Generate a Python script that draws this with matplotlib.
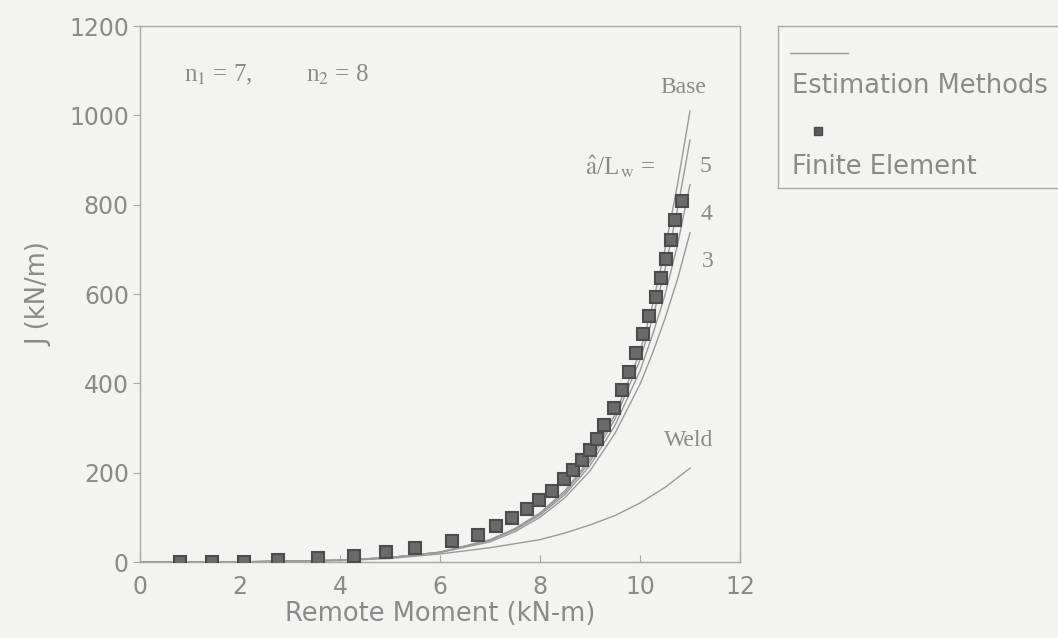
import matplotlib
matplotlib.use("Agg")
import matplotlib.pyplot as plt

# ---- data ----
fe_moment = [0.80, 1.44, 2.08, 2.76, 3.55, 4.28, 4.92, 5.50, 6.23, 6.75, 7.12, 7.44,
             7.74, 7.98, 8.24, 8.48, 8.66, 8.84, 8.99, 9.13, 9.27, 9.47, 9.63, 9.77,
             9.91, 10.06, 10.17, 10.31, 10.41, 10.51, 10.61, 10.69, 10.83]
fe_j = [0, 0, 1, 4, 10, 13, 23, 32, 46, 60, 80, 98,
        118, 139, 159, 185, 205, 228, 251, 276, 307, 344, 384, 426,
        467, 510, 551, 593, 635, 678, 722, 766, 809]

est_moment = [0, 2, 4, 5, 6, 7, 7.5, 8, 8.5, 9, 9.5, 10, 10.25, 10.5, 10.75, 11]
base_j = [0, 0.3, 4, 10, 22, 50, 75, 110, 160, 230, 330, 470, 575, 700, 845, 1010]
r5_j = [0, 0.3, 4, 10, 22, 49, 74, 108, 156, 224, 320, 452, 545, 655, 790, 945]
r4_j = [0, 0.3, 4, 10, 22, 48, 72, 105, 151, 216, 306, 428, 508, 598, 710, 845]
r3_j = [0, 0.3, 4, 10, 21, 45, 68, 100, 144, 204, 288, 398, 467, 545, 633, 737]

weld_moment = [0, 2, 4, 5, 6, 7, 8, 8.5, 9, 9.5, 10, 10.5, 11]
weld_j = [0, 0.3, 3, 8, 18, 32, 50, 65, 83, 104, 132, 167, 210]

x_ticks = [0, 2, 4, 6, 8, 10, 12]
y_ticks = [0, 200, 400, 600, 800, 1000, 1200]

# ---- styling ----
bg = "#f3f3f1"
txt = "#8a8a8a"
line_c = "#9a9a9a"
spine_c = "#a8a8a8"

fig = plt.figure(figsize=(10.58, 6.38), dpi=100, facecolor=bg)
W, H = 1058, 638
ax = fig.add_axes([140 / W, (H - 562) / H, 600 / W, 536 / H], facecolor=bg)

for yv in (base_j, r5_j, r4_j, r3_j):
    ax.plot(est_moment, yv, color=line_c, lw=1.0, zorder=2)
ax.plot(weld_moment, weld_j, color=line_c, lw=1.0, zorder=2)
ax.plot(fe_moment, fe_j, ls="none", marker="s", ms=8.5, mfc="#6a6a6a",
        mec="#4c4c4c", mew=1.5, zorder=3)

ax.set_xlim(0, 12)
ax.set_ylim(0, 1200)
ax.set_xticks(x_ticks)
ax.set_yticks(y_ticks)
ax.tick_params(axis="x", direction="in", length=5, color=spine_c, labelsize=17,
               labelcolor=txt, pad=9)
ax.tick_params(axis="y", direction="out", length=5, color=spine_c, labelsize=17,
               labelcolor=txt, pad=3)
for s in ax.spines.values():
    s.set_color(spine_c)
    s.set_linewidth(1.0)
ax.spines["top"].set_linestyle((0, (2, 1)))

ax.set_xlabel("Remote Moment (kN-m)", fontsize=18.5, color=txt, labelpad=2)
ax.set_ylabel("J (kN/m)", fontsize=18.5, color=txt, labelpad=12)

serif = ["Liberation Serif", "DejaVu Serif"]
ax.text(0.87, 1090, r"n$_1$ = 7,", fontsize=18, color=txt,
        family=serif, va="center", ha="left", math_fontfamily="stix")
ax.text(3.32, 1090, r"n$_2$ = 8", fontsize=18, color=txt,
        family=serif, va="center", ha="left", math_fontfamily="stix")
ax.text(10.87, 1062, "Base", fontsize=17, color=txt, family=serif,
        ha="center", va="center")
ax.text(10.31, 885, r"$\hat{\mathrm{a}}$/L$_{\,\mathrm{w}}$ =", fontsize=18, color=txt,
        family=serif, ha="right", va="center", math_fontfamily="stix")
ax.text(11.3, 885, "5", fontsize=17, color=txt, family=serif, ha="center", va="center")
ax.text(11.33, 778, "4", fontsize=17, color=txt, family=serif, ha="center", va="center")
ax.text(11.36, 672, "3", fontsize=17, color=txt, family=serif, ha="center", va="center")
ax.text(10.97, 272, "Weld", fontsize=17, color=txt, family=serif, ha="center", va="center")

# ---- legend box ----
lx0, ly_top, ly_bot = 778, 26, 188
lax = fig.add_axes([lx0 / W, (H - ly_bot) / H, (W - lx0 + 20) / W, (ly_bot - ly_top) / H],
                   facecolor=bg)
lax.set_xlim(lx0, W + 20)
lax.set_ylim(ly_bot, ly_top)
lax.set_xticks([])
lax.set_yticks([])
for s in lax.spines.values():
    s.set_color(spine_c)
    s.set_linewidth(1.0)
lax.spines["top"].set_linestyle((0, (2, 1)))
lax.spines["bottom"].set_linestyle((0, (2, 1)))
lax.plot([790, 848], [53, 53], color=line_c, lw=1.0)
lax.text(792, 86, "Estimation Methods", fontsize=18.5, color=txt, va="center", ha="left")
lax.plot([818], [131], ls="none", marker="s", ms=6, mfc="#5a5a5a", mec="#4c4c4c")
lax.text(792, 167, "Finite Element", fontsize=18.5, color=txt, va="center", ha="left")

fig.savefig("out.png", dpi=100, facecolor=bg)
